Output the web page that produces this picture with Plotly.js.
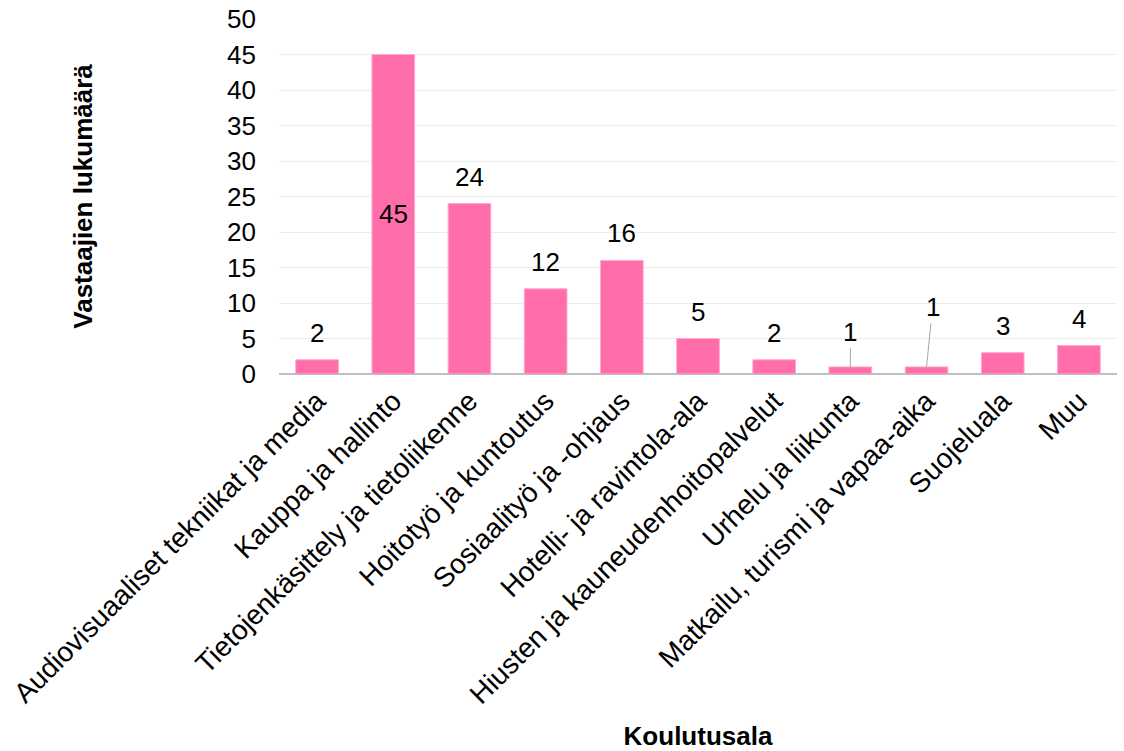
<!DOCTYPE html>
<html><head><meta charset="utf-8">
<script src="https://cdn.plot.ly/plotly-3.0.1.min.js"></script>
<style>html,body{margin:0;padding:0;background:#fff}</style>
</head><body>
<div id="chart" style="width:1124px;height:751px"></div>
<script>
const categories = [
  "Audiovisuaaliset tekniikat ja media",
  "Kauppa ja hallinto",
  "Tietojenkäsittely ja tietoliikenne",
  "Hoitotyö ja kuntoutus",
  "Sosiaalityö ja -ohjaus",
  "Hotelli- ja ravintola-ala",
  "Hiusten ja kauneudenhoitopalvelut",
  "Urhelu ja liikunta",
  "Matkailu, turismi ja vapaa-aika",
  "Suojeluala",
  "Muu"
];
const values = [2, 45, 24, 12, 16, 5, 2, 1, 1, 3, 4];
const yTicks = [0, 5, 10, 15, 20, 25, 30, 35, 40, 45, 50];

const FONT = "Arial, 'Liberation Sans', sans-serif";
const FS = 26;
const maxVal = Math.max(...values);

const annotations = values.map((v, i) => {
  const base = {x: categories[i], xref: 'x', yref: 'y', text: String(v),
    font: {family: FONT, size: FS, color: '#000'}};
  if (v === maxVal) {
    return Object.assign(base, {y: v / 2, showarrow: false, yanchor: 'middle'});
  }
  if (v === 1) {
    const far = (i === 8);
    return Object.assign(base, {y: v, showarrow: true, arrowhead: 0, arrowwidth: 1,
      arrowcolor: '#A6A6A6', ax: far ? 6 : 0, ay: far ? -60 : -35, standoff: 0});
  }
  return Object.assign(base, {y: v, showarrow: false, yanchor: 'middle', yshift: 27});
});

const trace = {
  type: 'bar',
  x: categories,
  y: values,
  marker: {color: '#FF6DAA', line: {color: '#FFA8CC', width: 1}},
  hoverinfo: 'x+y'
};

const layout = {
  width: 1124, height: 751,
  margin: {l: 279, r: 7, t: 19, b: 377},
  paper_bgcolor: '#fff', plot_bgcolor: '#fff',
  showlegend: false,
  bargap: 0.44,
  font: {family: FONT, size: FS, color: '#000'},
  xaxis: {
    type: 'category',
    tickangle: -45,
    tickfont: {family: FONT, size: 28, color: '#000'},
    ticklabelstandoff: 4,
    showgrid: false,
    showline: false,
    ticks: '',
    automargin: false,
    title: {text: '<b>Koulutusala</b>', font: {family: FONT, size: FS, color: '#000'}, standoff: 22}
  },
  yaxis: {
    range: [0, 50],
    tickvals: yTicks,
    tickfont: {family: FONT, size: FS, color: '#000'},
    ticklabelstandoff: 22,
    showgrid: true, gridcolor: '#EDEDED', gridwidth: 1,
    zeroline: true, zerolinecolor: '#BFBFBF', zerolinewidth: 2,
    showline: false, ticks: '',
    automargin: false,
    title: {text: '<b>Vastaajien lukumäärä</b>', font: {family: FONT, size: FS, color: '#000'}, standoff: 126}
  },
  annotations: annotations
};

Plotly.newPlot('chart', [trace], layout, {displayModeBar: false, staticPlot: true});
</script>
</body></html>
